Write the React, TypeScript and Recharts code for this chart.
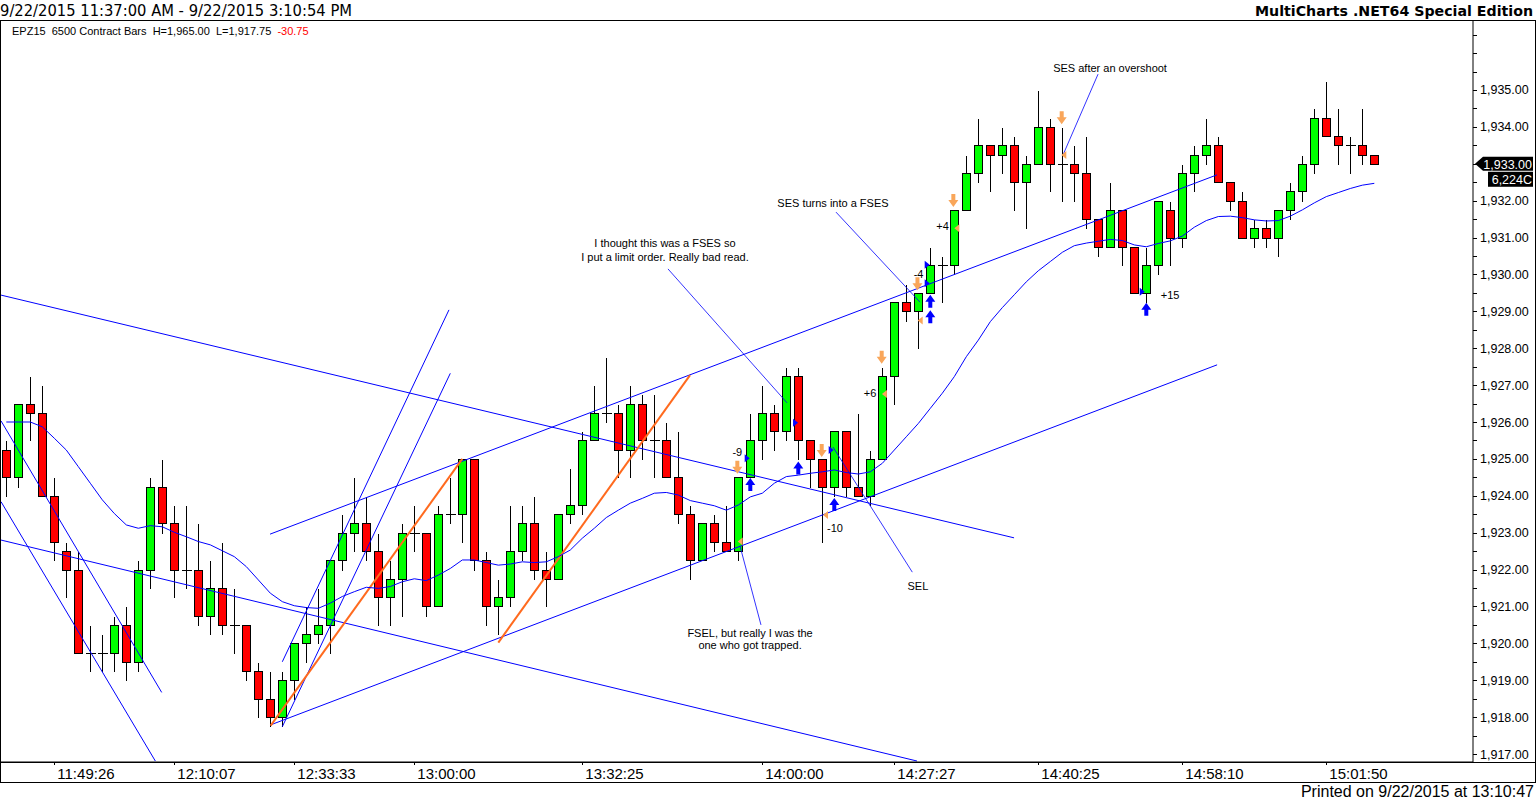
import React from "react";
import { Bar, ComposedChart, Line, ReferenceLine, Scatter, XAxis, YAxis } from "recharts";

// EPZ15 6500 contract bars, 9/22/2015
const opens = [
  1925.25, 1924.5, 1926.5, 1926.25, 1924.0, 1922.5, 1922.0, 1919.75, 1919.75, 1919.75,
  1920.5, 1919.5, 1922.0, 1924.25, 1923.25, 1922.0, 1922.0, 1920.75, 1921.5, 1920.5,
  1920.5, 1919.25, 1918.5, 1918.0, 1919.0, 1920.0, 1920.25, 1920.5, 1922.25, 1923.0,
  1923.25, 1922.5, 1921.25, 1921.75, 1923.0, 1923.0, 1921.0, 1923.5, 1923.5, 1925.0,
  1922.25, 1921.0, 1921.25, 1922.5, 1923.25, 1922.0, 1921.75, 1923.5, 1923.75, 1925.5,
  1926.25, 1926.25, 1925.25, 1926.5, 1925.5, 1925.5, 1924.5, 1923.5, 1922.25, 1923.25,
  1922.75, 1922.5, 1924.5, 1925.5, 1926.25, 1925.75, 1927.25, 1925.5, 1925.0, 1924.25,
  1925.75, 1924.25, 1924.0, 1925.0, 1927.25, 1929.25, 1929.0, 1929.5, 1930.25, 1930.25,
  1931.75, 1932.75, 1933.5, 1933.25, 1933.5, 1932.5, 1933.0, 1934.0, 1933.0, 1933.0,
  1932.75, 1931.5, 1930.75, 1931.75, 1930.75, 1929.5, 1930.25, 1931.75, 1931.0, 1932.75,
  1933.25, 1933.5, 1932.5, 1932.0, 1931.0, 1931.25, 1931.0, 1931.75, 1932.25, 1933.0,
  1934.25, 1933.75, 1933.5, 1933.5, 1933.25,
];
const highs = [
  1925.5, 1926.5, 1927.25, 1927.0, 1924.5, 1922.75, 1922.5, 1920.5, 1920.25, 1920.75,
  1921.0, 1922.25, 1924.5, 1925.0, 1923.75, 1923.75, 1923.25, 1922.25, 1922.75, 1921.5,
  1920.5, 1919.5, 1919.25, 1919.25, 1920.0, 1921.0, 1921.5, 1922.25, 1923.5, 1924.5,
  1924.0, 1923.0, 1922.25, 1923.25, 1923.75, 1923.0, 1923.75, 1924.5, 1925.0, 1925.0,
  1922.5, 1921.75, 1923.75, 1923.75, 1924.0, 1922.5, 1923.5, 1924.75, 1925.75, 1927.0,
  1927.75, 1926.5, 1927.0, 1926.75, 1926.75, 1926.0, 1925.75, 1923.75, 1923.25, 1923.5,
  1923.75, 1924.5, 1926.25, 1927.0, 1926.5, 1927.5, 1927.5, 1925.5, 1925.0, 1925.75,
  1925.75, 1926.25, 1925.25, 1927.5, 1929.25, 1929.75, 1929.5, 1930.75, 1930.5, 1931.75,
  1933.25, 1934.25, 1933.5, 1934.0, 1933.75, 1933.25, 1935.0, 1934.25, 1934.0, 1933.5,
  1933.75, 1931.5, 1932.5, 1931.75, 1930.75, 1930.75, 1932.0, 1932.0, 1933.0, 1933.5,
  1934.25, 1933.75, 1932.5, 1932.25, 1931.5, 1931.5, 1931.75, 1932.5, 1933.25, 1934.5,
  1935.25, 1934.5, 1933.75, 1934.5, 1933.25,
];
const lows = [
  1924.0, 1924.25, 1925.5, 1924.0, 1922.25, 1921.25, 1919.75, 1919.25, 1919.25, 1919.25,
  1919.0, 1919.25, 1921.5, 1923.0, 1921.25, 1921.5, 1920.5, 1920.25, 1920.25, 1919.75,
  1919.0, 1918.0, 1917.75, 1917.75, 1918.5, 1919.5, 1920.0, 1919.75, 1922.0, 1922.5,
  1922.25, 1920.5, 1920.5, 1920.75, 1922.5, 1920.75, 1921.0, 1923.25, 1922.75, 1922.0,
  1920.5, 1920.25, 1921.0, 1922.25, 1921.75, 1921.0, 1921.75, 1923.25, 1923.5, 1925.5,
  1926.0, 1924.5, 1924.5, 1925.0, 1924.5, 1924.5, 1923.25, 1921.75, 1922.25, 1922.5,
  1922.5, 1922.25, 1924.5, 1925.0, 1925.25, 1925.5, 1925.0, 1924.25, 1922.75, 1924.0,
  1924.0, 1924.0, 1923.75, 1925.0, 1926.5, 1928.75, 1928.0, 1929.5, 1929.25, 1930.0,
  1931.75, 1932.5, 1932.25, 1932.75, 1931.75, 1931.25, 1933.0, 1932.25, 1932.0, 1932.0,
  1931.25, 1930.5, 1930.75, 1930.25, 1929.5, 1929.25, 1930.0, 1930.25, 1930.75, 1932.25,
  1933.0, 1932.5, 1931.75, 1931.0, 1930.75, 1930.75, 1930.5, 1931.5, 1932.0, 1932.75,
  1933.75, 1933.0, 1932.75, 1933.0, 1933.0,
];
const closes = [
  1924.5, 1926.5, 1926.25, 1924.0, 1922.75, 1922.0, 1919.75, 1919.75, 1919.75, 1920.5,
  1919.5, 1922.0, 1924.25, 1923.25, 1922.0, 1922.0, 1920.75, 1921.5, 1920.5, 1920.5,
  1919.25, 1918.5, 1918.0, 1919.0, 1920.0, 1920.25, 1920.5, 1922.25, 1923.0, 1923.25,
  1922.5, 1921.25, 1921.75, 1923.0, 1923.0, 1921.0, 1923.5, 1923.5, 1925.0, 1922.25,
  1921.0, 1921.25, 1922.5, 1923.25, 1922.0, 1921.75, 1923.5, 1923.75, 1925.5, 1926.25,
  1926.25, 1925.25, 1926.5, 1925.5, 1925.5, 1924.5, 1923.5, 1922.25, 1923.25, 1922.75,
  1922.5, 1924.5, 1925.5, 1926.25, 1925.75, 1927.25, 1925.5, 1925.0, 1924.25, 1925.75,
  1924.25, 1924.0, 1925.0, 1927.25, 1929.25, 1929.0, 1929.5, 1930.25, 1930.25, 1931.75,
  1932.75, 1933.5, 1933.25, 1933.5, 1932.5, 1933.0, 1934.0, 1933.0, 1933.0, 1932.75,
  1931.5, 1930.75, 1931.75, 1930.75, 1929.5, 1930.25, 1932.0, 1931.0, 1932.75, 1933.25,
  1933.5, 1932.5, 1932.0, 1931.0, 1931.25, 1931.0, 1931.75, 1932.25, 1933.0, 1934.25,
  1933.75, 1933.5, 1933.5, 1933.25, 1933.0,
];
// blue average line
const maValues = [
  1926.0, 1926.0, 1926.0, 1925.87, 1925.56, 1925.24, 1924.79, 1924.34, 1923.89, 1923.52,
  1923.21, 1923.12, 1923.19, 1923.16, 1923.01, 1922.89, 1922.76, 1922.67, 1922.51, 1922.35,
  1922.08, 1921.72, 1921.36, 1921.13, 1921.02, 1920.97, 1920.95, 1921.09, 1921.27, 1921.4,
  1921.52, 1921.49, 1921.54, 1921.67, 1921.75, 1921.7, 1921.85, 1922.03, 1922.26, 1922.26,
  1922.19, 1922.12, 1922.15, 1922.21, 1922.19, 1922.21, 1922.35, 1922.53, 1922.85, 1923.12,
  1923.41, 1923.61, 1923.8, 1923.93, 1924.07, 1924.09, 1924.02, 1923.87, 1923.8, 1923.73,
  1923.61, 1923.75, 1923.97, 1924.07, 1924.34, 1924.52, 1924.56, 1924.61, 1924.65, 1924.7,
  1924.63, 1924.59, 1924.65, 1924.88, 1925.24, 1925.6, 1925.96, 1926.37, 1926.78, 1927.23,
  1927.77, 1928.22, 1928.72, 1929.1, 1929.45, 1929.8, 1930.1, 1930.35, 1930.6, 1930.78,
  1930.85, 1930.9, 1930.95, 1930.92, 1930.8, 1930.75, 1930.84, 1930.91, 1931.04, 1931.28,
  1931.46, 1931.57, 1931.58, 1931.54, 1931.48, 1931.45, 1931.46, 1931.58, 1931.75, 1931.94,
  1932.11, 1932.22, 1932.33, 1932.42, 1932.47,
];

const timeTickBars = [4, 14, 24, 34, 48, 63, 74, 86, 98, 110];
const timeTickLabels = [
  "11:49:26", "12:10:07", "12:33:33", "13:00:00", "13:32:25",
  "14:00:00", "14:27:27", "14:40:25", "14:58:10", "15:01:50",
];
const priceTicks = [
  1917, 1917.5, 1918, 1918.5, 1919, 1919.5, 1920, 1920.5, 1921, 1921.5,
  1922, 1922.5, 1923, 1923.5, 1924, 1924.5, 1925, 1925.5, 1926, 1926.5,
  1927, 1927.5, 1928, 1928.5, 1929, 1929.5, 1930, 1930.5, 1931, 1931.5,
  1932, 1932.5, 1933, 1933.5, 1934, 1934.5, 1935, 1935.5, 1936, 1936.5,
];

// drawn lines: [bar, price, bar, price]
const blueLines = [
  [-0.44, 1929.44, 83.98, 1922.86],
  [-0.44, 1922.8, 75.89, 1916.81],
  [-0.44, 1926.03, 12.95, 1918.67],
  [-0.44, 1923.84, 12.42, 1916.81],
  [23.0, 1919.5, 36.89, 1929.04],
  [23.0, 1917.74, 37.0, 1927.32],
  [22.03, 1917.79, 100.9, 1927.55],
  [21.98, 1922.96, 100.89, 1932.7],
];
const pointerLines = [
  [55.14, 1930.15, 65.06, 1926.52],
  [69.14, 1931.69, 76.14, 1929.25],
  [90.98, 1935.43, 88.06, 1933.24],
  [61.14, 1922.64, 62.89, 1920.5],
  [68.89, 1925.32, 75.5, 1921.93],
];
const orangeLines = [
  [22.03, 1917.77, 38.0, 1925.0],
  [41.0, 1920.02, 56.98, 1927.27],
];

const buyArrows = [
  { i: 62.0, p: 1924.29 }, { i: 66.0, p: 1924.74 }, { i: 69.0, p: 1923.75 },
  { i: 77.0, p: 1929.26 }, { i: 77.0, p: 1928.84 }, { i: 95.0, p: 1929.04 },
];
const sellArrows = [
  { i: 60.92, p: 1924.79 }, { i: 67.95, p: 1925.24 }, { i: 72.95, p: 1927.77 },
  { i: 75.93, p: 1929.76 }, { i: 78.92, p: 1932.02 }, { i: 87.95, p: 1934.26 },
];
const exitMarks = [
  { i: 61.2, p: 1922.76 }, { i: 68.31, p: 1923.48 }, { i: 73.22, p: 1926.76 },
  { i: 76.2, p: 1928.75 }, { i: 79.25, p: 1931.25 }, { i: 88.17, p: 1933.24 },
];
const entryMarks = [
  { i: 61.7, p: 1925.02 }, { i: 65.73, p: 1925.98 }, { i: 68.7, p: 1925.24 },
  { i: 76.7, p: 1930.26 }, { i: 76.7, p: 1929.76 }, { i: 94.62, p: 1929.53 },
];
const tradeResults = [
  { i: 60.92, p: 1925.18, text: "-9" },
  { i: 69.06, p: 1923.13, text: "-10" },
  { i: 71.98, p: 1926.78, text: "+6" },
  { i: 76.02, p: 1930.0, text: "-4" },
  { i: 78.02, p: 1931.3, text: "+4" },
  { i: 96.98, p: 1929.44, text: "+15" },
];
const notes = [
  { i: 91.98, p: 1935.6, text: "SES after an overshoot" },
  { i: 68.89, p: 1931.94, text: "SES turns into a FSES" },
  { i: 54.89, p: 1930.85, text: "I thought this was a FSES so" },
  { i: 54.89, p: 1930.47, text: "I put a limit order. Really bad read." },
  { i: 61.98, p: 1920.28, text: "FSEL, but really I was the" },
  { i: 61.98, p: 1919.96, text: "one who got trapped." },
  { i: 75.97, p: 1921.55, text: "SEL" },
];

const lastPrice = 1933.0;
const lastVolume = "6,224C";

const candles = opens.map((open, i) => ({
  i,
  open,
  high: highs[i],
  low: lows[i],
  close: closes[i],
  range: [lows[i], highs[i]],
  ma: maValues[i],
}));

const W = 1536;
const H = 801;
const X_MIN = -0.4417;
const X_MAX = 122.225;
const Y_MIN = 1916.7836;
const Y_MAX = 1936.8704;

const BLUE = "#0000FF";
const ORANGE_LINE = "#FF6A1E";
const ORANGE_MARK = "#F9A65A";
const SANS = "'Liberation Sans', Arial, sans-serif";
const NARROW = "'Liberation Sans Narrow', 'Liberation Sans', sans-serif";

const fmtPrice = (v: number) =>
  v.toLocaleString("en-US", { minimumFractionDigits: 2, maximumFractionDigits: 2 });

function Candle(props: any) {
  const { x, y, width, height, payload } = props;
  if (!payload) return null;
  const top = Math.min(y, y + height);
  const span = Math.abs(height);
  const { open, close, high, low } = payload;
  const k = high > low ? span / (high - low) : 0;
  const py = (v: number) => Math.round(top + (high - v) * k) + 0.5;
  const cx = Math.round(x + width / 2) + 0.5;
  const yo = py(open);
  const yc = py(close);
  return (
    <g shapeRendering="crispEdges">
      <line x1={cx} x2={cx} y1={py(high)} y2={py(low)} stroke="#000" strokeWidth={1} />
      {open === close ? (
        <line x1={cx - 5} x2={cx + 5} y1={yo} y2={yo} stroke="#000" strokeWidth={1} />
      ) : (
        <rect
          x={cx - 4}
          y={Math.min(yo, yc)}
          width={8}
          height={Math.abs(yc - yo)}
          fill={close > open ? "#00FF00" : "#FF0000"}
          stroke="#000"
          strokeWidth={1}
        />
      )}
    </g>
  );
}

function BuyArrow({ cx, cy }: any) {
  return (
    <path
      d={`M${cx},${cy - 7} L${cx + 5},${cy} L${cx + 2},${cy} L${cx + 2},${cy + 6} L${cx - 2},${cy + 6} L${cx - 2},${cy} L${cx - 5},${cy} Z`}
      fill={BLUE}
    />
  );
}

function SellArrow({ cx, cy }: any) {
  return (
    <path
      d={`M${cx},${cy + 7} L${cx + 5},${cy} L${cx + 2},${cy} L${cx + 2},${cy - 6} L${cx - 2},${cy - 6} L${cx - 2},${cy} L${cx - 5},${cy} Z`}
      fill={ORANGE_MARK}
    />
  );
}

function ExitMark({ cx, cy }: any) {
  return <path d={`M${cx - 3},${cy} L${cx + 2},${cy - 4} L${cx + 2},${cy + 4} Z`} fill={ORANGE_MARK} />;
}

function EntryMark({ cx, cy }: any) {
  return <path d={`M${cx + 3},${cy} L${cx - 2},${cy - 4} L${cx - 2},${cy + 4} Z`} fill={BLUE} />;
}

function NoteText({ cx, cy, payload }: any) {
  return (
    <text x={cx} y={cy + 4} textAnchor="middle" fontSize={11} fontFamily={SANS} fill="#000">
      {payload.text}
    </text>
  );
}

function PriceTick({ x, y, payload }: any) {
  const v = payload.value;
  // the last-price tag sits on top of its own level, so that label is left out
  const major = Number.isInteger(v) && v <= 1935 && v !== lastPrice;
  return (
    <g>
      <line x1={x} x2={x + 4} y1={Math.round(y) + 0.5} y2={Math.round(y) + 0.5} stroke="#000" />
      {major && (
        <text x={x + 7} y={y + 4.5} fontSize={12.5} fontFamily={SANS} fill="#000">
          {fmtPrice(v)}
        </text>
      )}
    </g>
  );
}

function TimeTick({ x, y, payload }: any) {
  const label = timeTickLabels[timeTickBars.indexOf(payload.value)];
  const tx = Math.round(x) + 0.5;
  return (
    <g>
      <line x1={tx} x2={tx} y1={y} y2={y + 3} stroke="#000" />
      <text x={x + 3} y={y + 17} fontSize={15} fontFamily={NARROW} fill="#000">
        {label}
      </text>
    </g>
  );
}

function PriceTag({ viewBox }: any) {
  if (!viewBox) return null;
  const ax = viewBox.x + viewBox.width;
  const y = viewBox.y;
  return (
    <g>
      <path
        d={`M${ax + 2},${y} L${ax + 10},${y - 7} L${ax + 60},${y - 7} L${ax + 60},${y + 7} L${ax + 10},${y + 7} Z`}
        fill="#000"
      />
      <text x={ax + 59} y={y + 5} textAnchor="end" fontSize={12.5} fontFamily={SANS} fill="#fff">
        {fmtPrice(lastPrice)}
      </text>
      <rect x={ax + 15} y={y + 8} width={45} height={15} fill="#000" />
      <text x={ax + 59} y={y + 20} textAnchor="end" fontSize={12.5} fontFamily={SANS} fill="#fff">
        {lastVolume}
      </text>
    </g>
  );
}

export default function App() {
  return (
    <div style={{ position: "relative", width: W, height: H, background: "#fff" }}>
      <style>{`body{margin:0;background:#fff}`}</style>
      <ComposedChart
        width={W}
        height={H}
        data={candles}
        margin={{ top: 21, right: 1, bottom: 17, left: 1 }}
      >
        <XAxis
          type="number"
          dataKey="i"
          domain={[X_MIN, X_MAX]}
          allowDataOverflow
          ticks={timeTickBars}
          interval={0}
          tick={<TimeTick />}
          tickLine={false}
          tickSize={0}
          tickMargin={0}
          axisLine={{ stroke: "#000" }}
          height={22}
        />
        <YAxis
          orientation="right"
          type="number"
          domain={[Y_MIN, Y_MAX]}
          allowDataOverflow
          ticks={priceTicks}
          interval={0}
          tick={<PriceTick />}
          tickLine={false}
          tickSize={0}
          tickMargin={0}
          axisLine={{ stroke: "#000" }}
          width={62}
        />
        {blueLines.map(([i1, p1, i2, p2], k) => (
          <ReferenceLine
            key={`b${k}`}
            segment={[{ x: i1, y: p1 }, { x: i2, y: p2 }]}
            stroke={BLUE}
            strokeWidth={1}
            ifOverflow="visible"
          />
        ))}
        {pointerLines.map(([i1, p1, i2, p2], k) => (
          <ReferenceLine
            key={`p${k}`}
            segment={[{ x: i1, y: p1 }, { x: i2, y: p2 }]}
            stroke={BLUE}
            strokeWidth={0.8}
            ifOverflow="visible"
          />
        ))}
        {orangeLines.map(([i1, p1, i2, p2], k) => (
          <ReferenceLine
            key={`o${k}`}
            segment={[{ x: i1, y: p1 }, { x: i2, y: p2 }]}
            stroke={ORANGE_LINE}
            strokeWidth={2}
            ifOverflow="visible"
          />
        ))}
        <Line
          dataKey="ma"
          stroke={BLUE}
          strokeWidth={1}
          dot={false}
          activeDot={false}
          isAnimationActive={false}
        />
        <Bar dataKey="range" barSize={9} shape={<Candle />} isAnimationActive={false} />
        <Scatter data={buyArrows} dataKey="p" shape={<BuyArrow />} isAnimationActive={false} />
        <Scatter data={sellArrows} dataKey="p" shape={<SellArrow />} isAnimationActive={false} />
        <Scatter data={exitMarks} dataKey="p" shape={<ExitMark />} isAnimationActive={false} />
        <Scatter data={entryMarks} dataKey="p" shape={<EntryMark />} isAnimationActive={false} />
        <Scatter data={tradeResults} dataKey="p" shape={<NoteText />} isAnimationActive={false} />
        <Scatter data={notes} dataKey="p" shape={<NoteText />} isAnimationActive={false} />
        <ReferenceLine y={lastPrice} stroke="none" ifOverflow="visible" label={<PriceTag />} />
      </ComposedChart>
      <svg
        width={W}
        height={H}
        style={{ position: "absolute", left: 0, top: 0, pointerEvents: "none" }}
      >
        <text
          x={0}
          y={16}
          fontSize={15}
          fontFamily="'DejaVu Sans', Tahoma, sans-serif"
          textLength={352}
          lengthAdjust="spacingAndGlyphs"
          fill="#000"
        >
          9/22/2015 11:37:00 AM - 9/22/2015 3:10:54 PM
        </text>
        <text
          x={1255}
          y={16}
          fontSize={14}
          fontWeight="bold"
          fontFamily="'DejaVu Sans', Verdana, sans-serif"
          textLength={278}
          lengthAdjust="spacingAndGlyphs"
          fill="#000"
        >
          MultiCharts .NET64 Special Edition
        </text>
        <text x={12} y={35} fontSize={11} fontFamily={SANS} fill="#000" style={{ whiteSpace: "pre" }}>
          {"EPZ15  6500 Contract Bars  H=1,965.00  L=1,917.75  "}
          <tspan fill="#FF0000">-30.75</tspan>
        </text>
        <text
          x={1534}
          y={797}
          textAnchor="end"
          fontSize={16}
          fontFamily={NARROW}
          fill="#000"
        >
          Printed on 9/22/2015 at 13:10:47
        </text>
        <g shapeRendering="crispEdges" stroke="#000" strokeWidth={1} fill="none">
          <line x1={0} x2={W} y1={20.5} y2={20.5} />
          <line x1={0.5} x2={0.5} y1={20} y2={783} />
          <line x1={1535.5} x2={1535.5} y1={20} y2={783} />
          <line x1={0} x2={W} y1={782.5} y2={782.5} />
          <line x1={0} x2={W} y1={762.5} y2={762.5} />
        </g>
      </svg>
    </div>
  );
}
